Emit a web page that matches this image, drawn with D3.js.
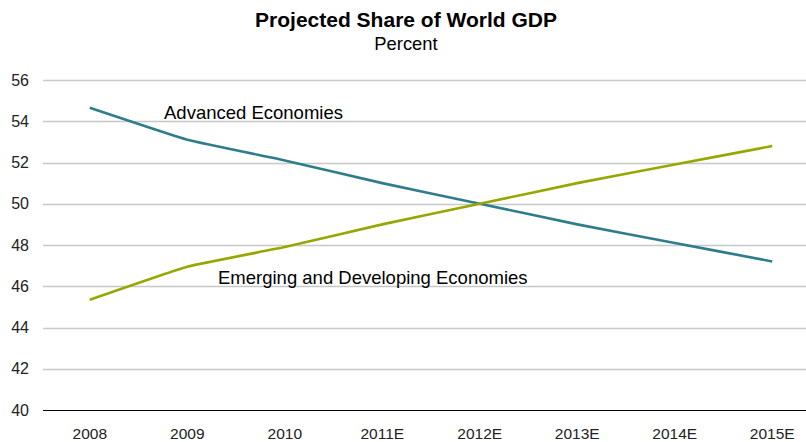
<!DOCTYPE html>
<html>
<head>
<meta charset="utf-8">
<script src="https://cdn.jsdelivr.net/npm/d3@7"></script>
<style>
  html, body { margin: 0; padding: 0; background: #fff; }
  svg { display: block; font-family: "Liberation Sans", Arial, sans-serif; }
</style>
</head>
<body>
<svg id="chart" width="806" height="442"></svg>
<script>
// Share of world GDP, percent
const years = ["2008", "2009", "2010", "2011E", "2012E", "2013E", "2014E", "2015E"];
const advanced = [54.65, 53.1, 52.1, 51.0, 50.0, 49.0, 48.1, 47.2];
const emerging = [45.35, 46.95, 47.9, 49.0, 50.0, 51.0, 51.9, 52.8];
const yTicks = [40, 42, 44, 46, 48, 50, 52, 54, 56];

(function () {
  const svg = d3.select("#chart");
  const W = 806;
  const plotLeft = 41, plotRight = 821, plotTop = 80, plotBottom = 410;
  const gridLeft = 43;

  const x = d3.scaleBand().domain(years).range([plotLeft, plotRight]);
  const y = d3.scaleLinear().domain([40, 56]).range([plotBottom, plotTop]);

  // Title
  svg.append("text").attr("x", 406).attr("y", 27).attr("text-anchor", "middle")
    .attr("font-size", 21).attr("font-weight", "bold").attr("fill", "#000")
    .text("Projected Share of World GDP");
  svg.append("text").attr("x", 406).attr("y", 50).attr("text-anchor", "middle")
    .attr("font-size", 18.4).attr("fill", "#000")
    .text("Percent");

  // Horizontal gridlines
  svg.append("g").selectAll("line").data(yTicks.filter(d => d !== 40)).join("line")
    .attr("x1", gridLeft).attr("x2", W)
    .attr("y1", d => Math.round(y(d)) + 0.5).attr("y2", d => Math.round(y(d)) + 0.5)
    .attr("stroke", "#c8c8c8").attr("stroke-width", 1.5);

  // Baseline
  svg.append("line").attr("x1", gridLeft).attr("x2", W)
    .attr("y1", Math.round(y(40)) + 0.5).attr("y2", Math.round(y(40)) + 0.5)
    .attr("stroke", "#000").attr("stroke-width", 1.2);

  // Y axis labels
  const yAxis = d3.axisLeft(y).tickValues(yTicks).tickSize(0).tickPadding(0);
  const gy = svg.append("g").attr("transform", `translate(${gridLeft - 14},0)`).call(yAxis);
  gy.select(".domain").remove();
  gy.selectAll("text").attr("font-size", 16).attr("fill", "#222")
    .attr("font-family", "Liberation Sans, Arial, sans-serif");

  // X axis labels
  const xAxis = d3.axisBottom(x).tickSize(0).tickPadding(0);
  const gx = svg.append("g").attr("transform", `translate(0,${plotBottom + 18})`).call(xAxis);
  gx.select(".domain").remove();
  gx.selectAll("text").attr("font-size", 15.5).attr("fill", "#222")
    .attr("font-family", "Liberation Sans, Arial, sans-serif");

  // Lines, lightly smoothed
  const line = d3.line()
    .x((d, i) => x(years[i]) + x.bandwidth() / 2)
    .y(d => y(d))
    .curve(d3.curveCardinal.tension(0.7));

  svg.append("path").datum(advanced).attr("d", line)
    .attr("fill", "none").attr("stroke", "#2f7d8c").attr("stroke-width", 2.6);
  svg.append("path").datum(emerging).attr("d", line)
    .attr("fill", "none").attr("stroke", "#97a700").attr("stroke-width", 2.6);

  // Series labels
  svg.append("text").attr("x", 164).attr("y", 119).attr("font-size", 18.5).attr("fill", "#000")
    .text("Advanced Economies");
  svg.append("text").attr("x", 218).attr("y", 284).attr("font-size", 18.5).attr("fill", "#000")
    .text("Emerging and Developing Economies");
})();
</script>
</body>
</html>
